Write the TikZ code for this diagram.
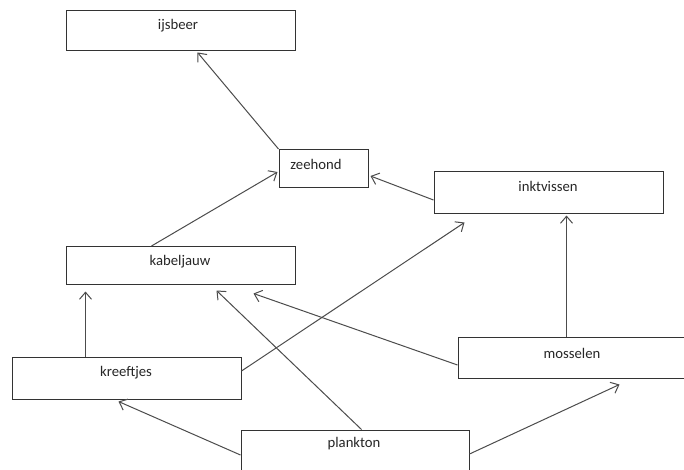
\documentclass[tikz,border=0pt]{standalone}
\usepackage{fontspec}
\setmainfont{Carlito}
\usetikzlibrary{arrows.meta,calc}
\begin{document}
\begin{tikzpicture}[x=1pt,y=-1pt,
  box/.style={draw=black!80, line width=1pt, rectangle, inner sep=0pt, fill=white},
  lbl/.style={inner sep=0pt, text=black!85, font=\fontsize{14.7}{17}\selectfont},
  feed/.style={draw=black!70, line width=1pt, -{Straight Barb[length=7pt,width=12pt,line width=1pt]}}]
\clip (0,0) rectangle (684,469);
\useasboundingbox (0,0) rectangle (684,469);
\fill[white] (0,0) rectangle (684,469);
% boxes
\node[box, minimum width=229pt, minimum height=40.5pt] (ijsbeer) at (181,30.7) {};
\node[box, minimum width=89pt, minimum height=38pt] (zeehond) at (323.5,168.5) {};
\node[box, minimum width=229pt, minimum height=42pt] (inktvissen) at (548.5,192) {};
\node[box, minimum width=229pt, minimum height=38pt] (kabeljauw) at (181,265.5) {};
\node[box, minimum width=229pt, minimum height=42pt] (kreeftjes) at (126.5,378) {};
\node[box, minimum width=229pt, minimum height=41pt] (mosselen) at (572.5,357.5) {};
\node[box, minimum width=228pt, minimum height=41pt] (plankton) at (355,450.5) {};
% labels
\node[lbl] (tijsbeer) at (178,26) {ijsbeer};
\node[lbl] (tzeehond) at (316,164) {zeehond};
\node[lbl] (tinktvissen) at (548,186) {inktvissen};
\node[lbl] (tkabeljauw) at (180,262) {kabeljauw};
\node[lbl] (tkreeftjes) at (126,373) {kreeftjes};
\node[lbl] (tmosselen) at (572,353) {mosselen};
\node[lbl] (tplankton) at (354,444) {plankton};
% connector ends
\coordinate (a1s) at (zeehond.north west);
\coordinate (a1t) at ($(ijsbeer.south west)+(131.5,1)$);
\coordinate (a2s) at ($(kabeljauw.north west)+(85.5,0)$);
\coordinate (a2t) at ($(zeehond.west)+(-1,3.5)$);
\coordinate (a3s) at ($(inktvissen.west)+(0,8)$);
\coordinate (a3t) at ($(zeehond.east)+(2,7.5)$);
\coordinate (a4s) at ($(kreeftjes.east)+(0,-7)$);
\coordinate (a4t) at ($(inktvissen.south west)+(31,9)$);
\coordinate (a5s) at ($(mosselen.north west)+(109,0)$);
\coordinate (a5t) at ($(inktvissen.south west)+(133,2)$);
\coordinate (a6s) at ($(mosselen.west)+(0,7.5)$);
\coordinate (a6t) at ($(kabeljauw.south west)+(187.5,8.5)$);
\coordinate (a7s) at ($(plankton.north west)+(121,0)$);
\coordinate (a7t) at ($(kabeljauw.south west)+(150.5,5.5)$);
\coordinate (a8s) at ($(kreeftjes.north west)+(74,0)$);
\coordinate (a8t) at ($(kabeljauw.south west)+(19.5,6.5)$);
\coordinate (a9s) at ($(plankton.west)+(0,4.5)$);
\coordinate (a9t) at ($(kreeftjes.south west)+(107,2)$);
\coordinate (a10s) at ($(plankton.east)+(0,3.5)$);
\coordinate (a10t) at ($(mosselen.south west)+(162,6)$);
% connectors
\draw[feed] (a1s) -- (a1t);
\draw[feed] (a2s) -- (a2t);
\draw[feed] (a3s) -- (a3t);
\draw[feed] (a4s) -- (a4t);
\draw[feed] (a5s) -- (a5t);
\draw[feed] (a6s) -- (a6t);
\draw[feed] (a7s) -- (a7t);
\draw[feed] (a8s) -- (a8t);
\draw[feed] (a9s) -- (a9t);
\draw[feed] (a10s) -- (a10t);
\end{tikzpicture}
\end{document}
